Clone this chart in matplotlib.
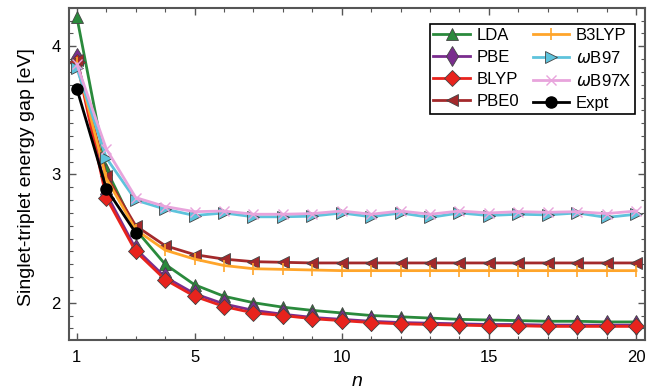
import numpy as np
import matplotlib
matplotlib.use('Agg')
import matplotlib.pyplot as plt
from matplotlib.ticker import MultipleLocator, FixedLocator

plt.rcParams['font.family'] = ['Liberation Sans', 'DejaVu Sans']

n = np.arange(1, 21)
lda   = [4.23, 3.04, 2.57, 2.30, 2.14, 2.05, 2.00, 1.965, 1.94, 1.92,
         1.90, 1.89, 1.88, 1.87, 1.865, 1.86, 1.855, 1.855, 1.85, 1.85]
pbe   = [3.91, 2.85, 2.42, 2.20, 2.07, 1.99, 1.94, 1.91, 1.885, 1.87,
         1.855, 1.845, 1.84, 1.835, 1.83, 1.83, 1.825, 1.825, 1.825, 1.825]
blyp  = [3.88, 2.82, 2.40, 2.18, 2.05, 1.97, 1.92, 1.90, 1.875, 1.86,
         1.845, 1.835, 1.83, 1.825, 1.82, 1.82, 1.815, 1.815, 1.815, 1.815]
pbe0  = [3.89, 2.99, 2.60, 2.445, 2.375, 2.34, 2.32, 2.315, 2.31, 2.31,
         2.31, 2.31, 2.31, 2.31, 2.31, 2.31, 2.31, 2.31, 2.31, 2.31]
b3lyp = [3.87, 2.97, 2.57, 2.41, 2.34, 2.29, 2.265, 2.26, 2.255, 2.25,
         2.25, 2.25, 2.25, 2.25, 2.25, 2.25, 2.25, 2.25, 2.25, 2.25]
wb97  = [3.83, 3.13, 2.80, 2.73, 2.68, 2.70, 2.67, 2.67, 2.675, 2.70,
         2.67, 2.70, 2.665, 2.70, 2.68, 2.69, 2.685, 2.70, 2.665, 2.69]
wb97x = [3.86, 3.20, 2.82, 2.75, 2.71, 2.715, 2.69, 2.69, 2.695, 2.715,
         2.69, 2.715, 2.69, 2.715, 2.70, 2.71, 2.705, 2.71, 2.695, 2.715]
n_expt = [1, 2, 3]
expt   = [3.67, 2.89, 2.545]

fig = plt.figure(figsize=(6.56, 3.92), dpi=100)
ax = fig.add_axes([0.105, 0.133, 0.878, 0.847])

ec = '#444444'
ax.plot(n, lda, '-^', color='#2a8a3c', mec=ec, mew=0.6, ms=8, lw=2, label='LDA')
ax.plot(n, pbe, '-d', color='#7a2d8e', mec=ec, mew=0.6, ms=10, lw=2, label='PBE')
ax.plot(n, blyp, '-D', color='#e8231d', mec=ec, mew=0.6, ms=8.5, lw=2, label='BLYP')
ax.plot(n, pbe0, '-<', color='#a3292b', mec=ec, mew=0.6, ms=8, lw=2, label='PBE0')
ax.plot(n, b3lyp, '-|', color='#ffa52a', ms=9, mew=1.2, lw=2, label='B3LYP')
ax.plot(n, wb97, '->', color='#5ec3dc', mec=ec, mew=0.6, ms=8, lw=2, label=r'$\omega$B97')
ax.plot(n, wb97x, '-x', color='#e8a4dc', ms=7, mew=1.0, lw=2, label=r'$\omega$B97X')
ax.plot(n_expt, expt, '-o', color='black', ms=8, lw=2, label='Expt')

ax.set_xlim(0.73, 20.3)
ax.set_ylim(1.71, 4.30)
ax.xaxis.set_major_locator(FixedLocator([1, 5, 10, 15, 20]))
ax.xaxis.set_minor_locator(MultipleLocator(1))
ax.yaxis.set_major_locator(MultipleLocator(1))
ax.yaxis.set_minor_locator(MultipleLocator(0.1))
ax.tick_params(which='both', direction='in', top=True, right=True, labelsize=12,
               colors='#555555', labelcolor='black')
ax.tick_params(axis='x', pad=7)
ax.tick_params(axis='y', pad=6)
ax.tick_params(which='major', length=5, width=1)
ax.tick_params(which='minor', length=3, width=0.8)
for s in ax.spines.values():
    s.set_color('#555555')
    s.set_linewidth(1.5)

ax.set_xlabel('n', fontsize=14, style='italic', labelpad=6)
ax.set_ylabel('Singlet-triplet energy gap [eV]', fontsize=14)
ax.yaxis.set_label_coords(-0.058, 0.49)

leg = ax.legend(ncol=2, loc='upper right', fontsize=12, fancybox=False, edgecolor='black',
                framealpha=1, handlelength=2.2, handletextpad=0.4, columnspacing=0.8,
                labelspacing=0.42, borderpad=0.2, bbox_to_anchor=(0.997, 0.975))
leg.get_frame().set_linewidth(1.2)

plt.savefig('out.png', dpi=100)
